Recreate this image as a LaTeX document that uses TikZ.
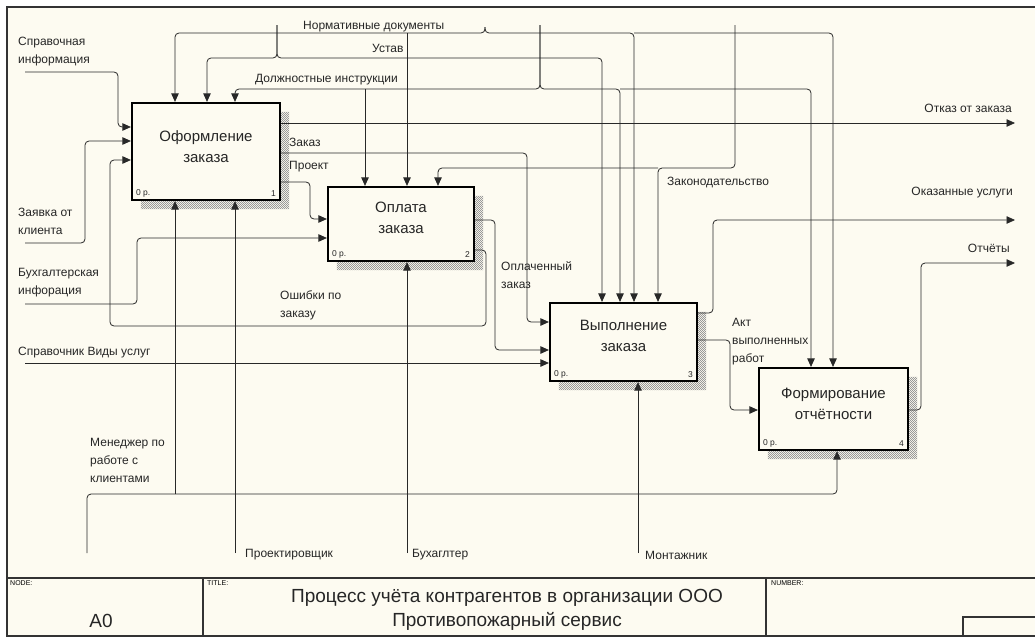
\documentclass[tikz,border=0pt]{standalone}
\usepackage{fontspec}
\setmainfont{Liberation Sans}
\usetikzlibrary{arrows.meta,patterns.meta,calc}
\definecolor{bgcream}{RGB}{253,251,241}
\definecolor{linegray}{RGB}{40,40,40}

% fine checker used for the box shadows
\tikzdeclarepattern{
  name=idefshade,
  type=uncolored,
  bounding box={(0,0) and (2.4pt,2.4pt)},
  tile size={(2.4pt,2.4pt)},
  code={
    \pgfpathrectangle{\pgfpointorigin}{\pgfpoint{1.2pt}{1.2pt}}
    \pgfpathrectangle{\pgfpoint{1.2pt}{1.2pt}}{\pgfpoint{1.2pt}{1.2pt}}
    \pgfusepath{fill}
  }
}
\newcommand{\boxshade}[1]{%
  \fill[pattern=idefshade, pattern color=black!40]
    ([yshift=-10pt]#1.north east) -- ++(8pt,0pt) |- ([xshift=10pt,yshift=-8pt]#1.south west)
    -- ([xshift=10pt]#1.south west) -- (#1.south east) -- cycle;}

\begin{document}
\begin{tikzpicture}[x=1pt,y=-1pt,
    procbox/.style={draw, line width=2.2pt, fill=bgcream, inner sep=0pt},
    flow/.style={draw=linegray, line width=0.8pt, rounded corners=4pt, -{Triangle[length=8.5pt,width=7.5pt]}},
    lbl/.style={font=\fontsize{12}{18}\selectfont, align=left, inner sep=0pt, anchor=west, text=black!85},
    boxname/.style={font=\fontsize{15}{21}\selectfont, align=center, text=black!85},
    boxtag/.style={font=\fontsize{8.5}{10}\selectfont, inner sep=0pt, text=black!85},
    frame/.style={line width=1.2pt, draw=black!80},
    tiny/.style={font=\fontsize{7}{8}\selectfont, anchor=west, inner sep=0pt}
]
\useasboundingbox (0,0) rectangle (1035,637);
\fill[white] (0,0) rectangle (1035,637);
\fill[bgcream] (7,7) rectangle (1035,636);

% Frame and title block
\draw[frame] (1035,7) -- (7,7) -- (7,636) -- (1035,636);
\draw[frame] (7,578) -- (1035,578);
\draw[frame] (203,578) -- (203,636);
\draw[frame] (766,578) -- (766,636);
\draw[frame] (1035,617) -- (963,617) -- (963,636);
\node[tiny] (t-node) at (10,583) {NODE:};
\node[tiny] (t-title) at (207,583) {TITLE:};
\node[tiny] (t-num) at (771,583) {NUMBER:};
\node[font=\fontsize{19}{24}\selectfont, text=black!85] (t-a0) at (101,621) {A0};
\node[font=\fontsize{19}{24}\selectfont, align=center, text=black!85] (t-name) at (507,610)
  {Процесс учёта контрагентов в организации ООО\\Противопожарный сервис};

% Activity boxes
\node[procbox, minimum width=148pt, minimum height=97pt] (b1) at (206,151.5) {};
\node[procbox, minimum width=146pt, minimum height=74pt] (b2) at (401,224) {};
\node[procbox, minimum width=147pt, minimum height=78pt] (b3) at (623.5,342) {};
\node[procbox, minimum width=149pt, minimum height=82pt] (b4) at (833.5,409) {};
\boxshade{b1}
\boxshade{b2}
\boxshade{b3}
\boxshade{b4}
\node[boxname] (n1) at ([yshift=5pt]b1.center) {Оформление\\заказа};
\node[boxname] (n2) at ([yshift=6pt]b2.center) {Оплата\\заказа};
\node[boxname] (n3) at ([yshift=6pt]b3.center) {Выполнение\\заказа};
\node[boxname] (n4) at ([yshift=5pt]b4.center) {Формирование\\отчётности};
\foreach \b/\k in {b1/1,b2/2,b3/3,b4/4}{
  \node[boxtag, anchor=south west] (\b-cost) at ([xshift=5pt,yshift=4pt]\b.south west) {0 р.};
  \node[boxtag, anchor=south east] (\b-num) at ([xshift=-5pt,yshift=4pt]\b.south east) {\k};
}

% Free ends
\coordinate (in1) at (25,72);
\coordinate (in2) at (25,243);
\coordinate (in3) at (25,304);
\coordinate (in4) at (25,363);
\coordinate (out1) at (1015,123);
\coordinate (out2) at (1015,220);
\coordinate (out3) at (1015,263);
\coordinate (ctl1) at (485,27);
\coordinate (ctl2) at (277,25);
\coordinate (ctl3) at (540,25);
\coordinate (ctl4) at (735,25);
\coordinate (mec1) at (87,553);
\coordinate (mec2) at (235,553);
\coordinate (mec3) at (407,553);
\coordinate (mec4) at (638,553);

% Inputs
\draw[flow] (in1) -| (118,127) -- (b1.west |- 0,127);
\draw[flow] (in2) -| (85,141) -- (b1.west |- 0,141);
\draw[flow] (b2.east |- 0,250) -| (486,326) -| (110,160) -- (b1.west |- 0,160);
\draw[flow] (b1.east |- 0,182) -| (310,219) -- (b2.west |- 0,219);
\draw[flow] (in3) -| (137,238) -- (b2.west |- 0,238);
\draw[flow] (b1.east |- 0,153) -| (527,322) -- (b3.west |- 0,322);
\draw[flow] (b2.east |- 0,220) -| (495,350) -- (b3.west |- 0,350);
\draw[flow] (in4) -- (b3.west |- in4);
\draw[flow] (b3.east |- 0,340) -| (730,410) -- (b4.west |- 0,410);

% Outputs
\draw[flow] (b1.east |- out1) -- (out1);
\draw[flow] (b3.east |- 0,313) -| (713,220) -- (out2);
\draw[flow] (b4.east |- 0,410) -| (921,263) -- (out3);

% Controls
\draw[flow] (ctl1) |- (175,33) -- (b1.north -| 175,0);
\draw[flow] (407,33) -- (b2.north -| 407,0);
\draw[flow] (ctl1) |- (634,33) -- (b3.north -| 634,0);
\draw[flow] (634,33) -| (b4.north -| 833,0);
\draw[flow] (ctl2) |- (207,58) -- (b1.north -| 207,0);
\draw[flow] (ctl2) |- (602,58) -- (b3.north -| 602,0);
\draw[flow] (ctl3) |- (235,89) -- (b1.north -| 235,0);
\draw[flow] (365,89) -- (b2.north -| 365,0);
\draw[flow] (ctl3) |- (620,89) -- (b3.north -| 620,0);
\draw[flow] (620,89) -| (b4.north -| 811,0);
\draw[flow] (ctl4) |- (658,168) -- (b3.north -| 658,0);
\draw[flow] (658,168) -| (b2.north -| 438,0);

% Mechanisms
\draw[flow] (mec1) |- (837,494) -- (b4.south -| 837,0);
\draw[flow] (175,494) -- (b1.south -| 175,0);
\draw[flow] (mec2) -- (b1.south -| mec2);
\draw[flow] (mec3) -- (b2.south -| mec3);
\draw[flow] (mec4) -- (b3.south -| mec4);

% Labels
\node[lbl] (l-sprav) at (18,52) {Справочная\\информация};
\node[lbl] (l-zayav) at (18,221.5) {Заявка от\\клиента};
\node[lbl] (l-buhinf) at (18,283) {Бухгалтерская\\инфорация};
\node[lbl] (l-vidy) at (18,353) {Справочник Виды услуг};
\node[lbl] (l-err) at (280,305) {Ошибки по\\заказу};
\node[lbl] (l-zakaz) at (289,142) {Заказ};
\node[lbl] (l-proekt) at (289,167) {Проект};
\node[lbl] (l-norm) at (303,27) {Нормативные документы};
\node[lbl] (l-ustav) at (372,48) {Устав};
\node[lbl] (l-dolzh) at (255,80) {Должностные инструкции};
\node[lbl] (l-zakon) at (667,183) {Законодательство};
\node[lbl] (l-paid) at (501,275) {Оплаченный\\заказ};
\node[lbl] (l-akt) at (732,342) {Акт\\выполненных\\работ};
\node[lbl, anchor=east] (l-otkaz) at (1012,108) {Отказ от заказа};
\node[lbl, anchor=east] (l-usl) at (1013,193) {Оказанные услуги};
\node[lbl, anchor=east] (l-otch) at (1010,248) {Отчёты};
\node[lbl] (l-men) at (90,460) {Менеджер по\\работе с\\клиентами};
\node[lbl] (l-proj) at (245,555) {Проектировщик};
\node[lbl] (l-buh) at (412,555) {Бухаглтер};
\node[lbl] (l-mont) at (645,555) {Монтажник};
\end{tikzpicture}
\end{document}
